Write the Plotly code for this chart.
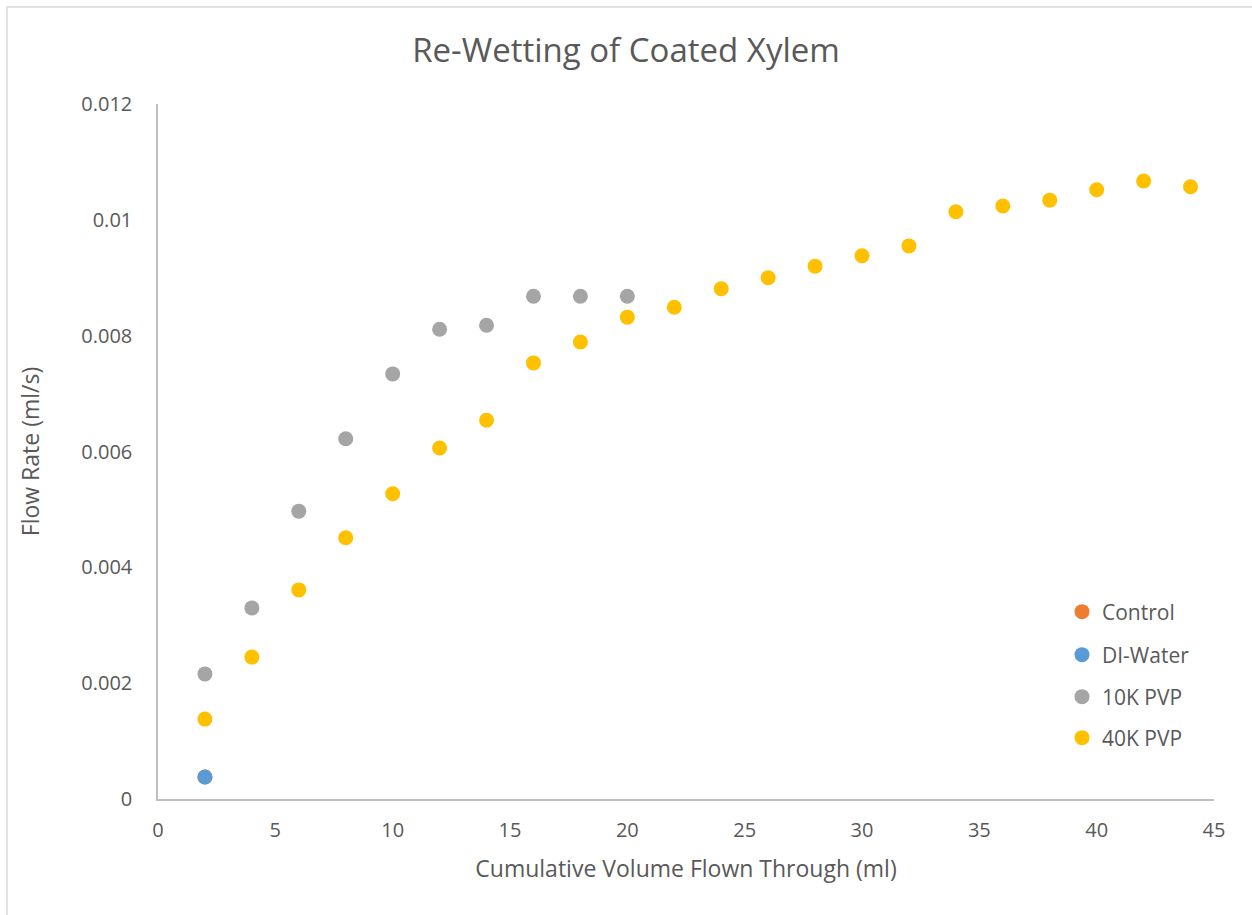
import plotly.graph_objects as go

x_control = [2]
y_control = [0.00038]
x_di = [2]
y_di = [0.00038]
x_10k = [2, 4, 6, 8, 10, 12, 14, 16, 18, 20]
y_10k = [0.00216, 0.0033, 0.00497, 0.00622, 0.00734, 0.00811, 0.00818, 0.00868, 0.00868, 0.00868]
x_40k = [2, 4, 6, 8, 10, 12, 14, 16, 18, 20, 22, 24, 26, 28, 30, 32, 34, 36, 38, 40, 42, 44]
y_40k = [0.00138, 0.00245, 0.00361, 0.00451, 0.00527, 0.00606, 0.00654, 0.00753, 0.00789, 0.00832,
         0.00849, 0.00881, 0.0090, 0.0092, 0.00938, 0.00955, 0.01014, 0.01024, 0.01034, 0.01052,
         0.01067, 0.01057]

FONT = "Open Sans"
TXT = "#595959"

series = [("Control", x_control, y_control, "#ED7D31"),
          ("DI-Water", x_di, y_di, "#5B9BD5"),
          ("10K PVP", x_10k, y_10k, "#A5A5A5"),
          ("40K PVP", x_40k, y_40k, "#FFC000")]
legend_ids = ["legend", "legend2", "legend3", "legend4"]
legend_px_y = [612, 655, 697, 738]

fig = go.Figure()
for (name, xs, ys, col), lid in zip(series, legend_ids):
    fig.add_trace(go.Scatter(x=xs, y=ys, mode="markers", name=name, legend=lid,
                             marker=dict(color=col, size=15, line=dict(width=0))))

legend_common = dict(xanchor="left", yanchor="middle",
                     font=dict(family=FONT, size=21, color=TXT),
                     itemsizing="trace", bgcolor="rgba(0,0,0,0)", borderwidth=0)
layout_legends = {}
for lid, py in zip(legend_ids, legend_px_y):
    layout_legends[lid] = dict(x=(1062 - 158) / 1056, y=(799 - py) / 695, **legend_common)

fig.update_layout(
    width=1252, height=915,
    margin=dict(l=158, r=38, t=104, b=116),
    paper_bgcolor="white", plot_bgcolor="white",
    font=dict(family=FONT, color=TXT, size=20),
    title=dict(text="Re-Wetting of Coated Xylem", x=0.5, xanchor="center",
               y=1 - 50 / 915, yanchor="middle",
               font=dict(family=FONT, size=33, color=TXT)),
    showlegend=True,
    xaxis=dict(range=[0, 45], tick0=0, dtick=5, showgrid=False, zeroline=False,
               showline=True, linecolor="#BFBFBF", linewidth=1.5, ticks="",
               ticklabelstandoff=12,
               tickfont=dict(family=FONT, size=20, color=TXT),
               title=dict(text="Cumulative Volume Flown Through (ml)", standoff=19,
                          font=dict(family=FONT, size=23, color=TXT))),
    yaxis=dict(range=[0, 0.012], tick0=0, dtick=0.002, showgrid=False, zeroline=False,
               showline=True, linecolor="#BFBFBF", linewidth=1.5, ticks="",
               ticklabelstandoff=20, tickformat="~g",
               tickfont=dict(family=FONT, size=20, color=TXT),
               title=dict(text="Flow Rate (ml/s)", standoff=35,
                          font=dict(family=FONT, size=23, color=TXT))),
    **layout_legends,
)

fig.add_shape(type="rect", xref="paper", yref="paper",
              x0=(7 - 158) / 1056, x1=(1270 - 158) / 1056,
              y0=(799 - 930) / 695, y1=(799 - 7) / 695,
              line=dict(color="#D9D9D9", width=1.5), fillcolor="rgba(0,0,0,0)", layer="below")

fig.write_html("out.html")
